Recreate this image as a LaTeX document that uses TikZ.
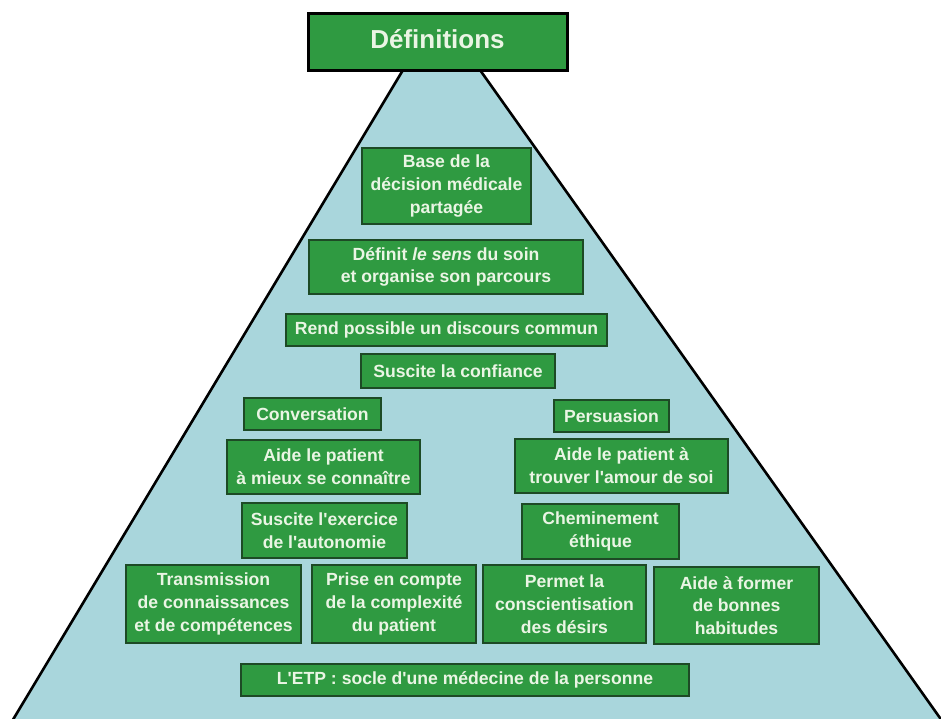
\documentclass[tikz,border=0pt]{standalone}
\usepackage{fontspec}
\setmainfont{Liberation Sans}
\definecolor{pyramidfill}{HTML}{A9D6DC}
\definecolor{boxgreen}{HTML}{2F9A41}
\definecolor{boxedge}{HTML}{1D4A25}
\definecolor{boxtext}{HTML}{EAF5E4}
\newcommand{\apos}{\textquotesingle}
\begin{document}
\begin{tikzpicture}[x=1pt,y=-1pt,
  card/.style={draw=boxedge, line width=1.8pt, fill=boxgreen, text=boxtext,
    font=\bfseries\fontsize{17.6}{22.8}\selectfont, align=center, inner sep=0pt},
  headcard/.style={draw=black, line width=3pt, fill=boxgreen, text=boxtext,
    font=\bfseries\fontsize{26}{30}\selectfont, align=center, inner sep=0pt}]
  \useasboundingbox (0,0) rectangle (941,718);
  % pyramid background (its top is hidden under the title box)
  \coordinate (topL) at (421,40);
  \coordinate (topR) at (458.7,40);
  \coordinate (baseL) at (9.2,726);
  \coordinate (baseR) at (945.7,726);
  \begin{scope}
    \clip (0,0) rectangle (941,718);
    \draw[fill=pyramidfill, line width=2.6pt, line join=miter] (topL) -- (baseL) -- (baseR) -- (topR) -- cycle;
  \end{scope}
  % title
  \node[headcard, minimum width=259pt, minimum height=57pt] (title) at (437.5,41.5) {\raisebox{5pt}{Définitions}};
  % upper column
  \node[card, minimum width=169pt, minimum height=76pt] (base) at (446.5,186) {Base de la\\décision médicale\\partagée};
  \node[card, minimum width=274pt, minimum height=54pt] (sens) at (446,267) {Définit \textit{le sens} du soin\\et organise son parcours};
  \node[card, minimum width=321pt, minimum height=32pt] (discours) at (446.5,330) {Rend possible un discours commun};
  \node[card, minimum width=194pt, minimum height=34pt] (confiance) at (458,371) {Suscite la confiance};
  % left branch
  \node[card, minimum width=137pt, minimum height=32pt] (conversation) at (312.5,414) {Conversation};
  \node[card, minimum width=193pt, minimum height=54pt] (connaitre) at (323.5,467) {Aide le patient\\à mieux se connaître};
  \node[card, minimum width=165pt, minimum height=55pt] (autonomie) at (324.5,530.5) {Suscite l\apos exercice\\de l\apos autonomie};
  % right branch
  \node[card, minimum width=115pt, minimum height=32pt] (persuasion) at (611.5,416) {Persuasion};
  \node[card, minimum width=213pt, minimum height=54pt] (amour) at (621.5,466) {Aide le patient à\\trouver l\apos amour de soi};
  \node[card, minimum width=157pt, minimum height=55pt] (ethique) at (600.5,531.5) {Cheminement\\éthique};
  % bottom row
  \node[card, minimum width=175pt, minimum height=78pt] (transmission) at (213.5,604) {Transmission\\de connaissances\\et de compétences};
  \node[card, minimum width=164pt, minimum height=78pt] (complexite) at (394,604) {Prise en compte\\de la complexité\\du patient};
  \node[card, minimum width=163pt, minimum height=78pt] (desirs) at (564.5,604) {Permet la\\conscientisation\\des désirs};
  \node[card, minimum width=165pt, minimum height=77pt] (habitudes) at (736.5,605.5) {Aide à former\\de bonnes\\habitudes};
  % foundation
  \node[card, minimum width=448pt, minimum height=32pt] (etp) at (465,680) {L\apos ETP : socle d\apos une médecine de la personne};
\end{tikzpicture}
\end{document}
